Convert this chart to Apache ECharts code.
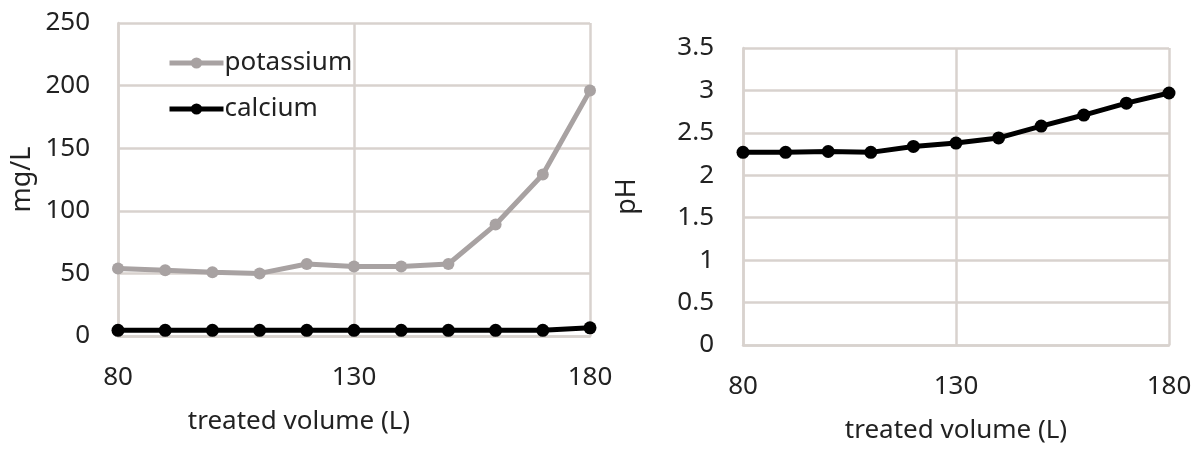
<!DOCTYPE html>
<html>
<head>
<meta charset="utf-8">
<script src="https://cdn.jsdelivr.net/npm/echarts@6/dist/echarts.min.js"></script>
<style>
html,body{margin:0;padding:0;background:#fff;}
#chart{width:1200px;height:453px;}
</style>
</head>
<body>
<div id="chart"></div>
<script>
const volumes = [80, 90, 100, 110, 120, 130, 140, 150, 160, 170, 180];
const potassium = [54, 52.5, 51, 50, 57.5, 55.5, 55.5, 57.5, 89, 129, 196];
const calcium = [4.5, 4.5, 4.5, 4.5, 4.5, 4.5, 4.5, 4.5, 4.5, 4.5, 6.5];
const ph = [2.27, 2.27, 2.28, 2.27, 2.34, 2.38, 2.44, 2.58, 2.71, 2.85, 2.97];

const FONT = 'Noto Sans';
const TXT = '#222';
const GRID = '#d8d2ce';

function pairs(xs, ys){ return xs.map((x,i)=>[x, ys[i]]); }

const chart = echarts.init(document.getElementById('chart'), null, {renderer:'canvas'});

function xAx(gridIndex, pad){
  return {
    type:'value', gridIndex, min:80, max:180, interval:50,
    name:'treated volume (L)', nameLocation:'middle', nameGap:73,
    nameTextStyle:{fontFamily:FONT, fontSize:26, color:TXT, padding:pad},
    axisLine:{show:true, lineStyle:{color:GRID, width:2.5}},
    axisTick:{show:false},
    axisLabel:{fontFamily:FONT, fontSize:26, color:TXT, margin:29},
    splitLine:{show:true, lineStyle:{color:GRID, width:2.5}}
  };
}

const option = {
  backgroundColor:'#fff',
  animation:false,
  grid:[
    {left:118, right:610, top:23, bottom:117},
    {left:743, right:31, top:48, bottom:108}
  ],
  legend:{
    data:['potassium','calcium'],
    orient:'vertical', left:162, top:45, itemGap:20,
    itemWidth:54, itemHeight:14,
    lineStyle:{width:5},
    textStyle:{fontFamily:FONT, fontSize:26, color:TXT, padding:[0,0,0,-4]}
  },
  xAxis:[xAx(0, [0,110,0,0]), xAx(1, [0,0,0,0])],
  yAxis:[
    {type:'value', gridIndex:0, min:0, max:250, interval:50,
     name:'mg/L', nameLocation:'middle', nameGap:82,
     nameTextStyle:{fontFamily:FONT, fontSize:27, color:TXT},
     axisLine:{show:true, lineStyle:{color:GRID, width:2.5}},
     axisTick:{show:false},
     axisLabel:{fontFamily:FONT, fontSize:26, color:TXT, margin:28},
     splitLine:{show:true, lineStyle:{color:GRID, width:2.5}}},
    {type:'value', gridIndex:1, min:0, max:3.5, interval:0.5,
     name:'pH', nameLocation:'middle', nameGap:102,
     nameTextStyle:{fontFamily:FONT, fontSize:27, color:TXT},
     axisLine:{show:true, lineStyle:{color:GRID, width:2.5}},
     axisTick:{show:false},
     axisLabel:{fontFamily:FONT, fontSize:26, color:TXT, margin:29},
     splitLine:{show:true, lineStyle:{color:GRID, width:2.5}}}
  ],
  series:[
    {name:'potassium', type:'line', xAxisIndex:0, yAxisIndex:0,
     data:pairs(volumes, potassium), symbol:'circle', symbolSize:12,
     lineStyle:{color:'#a8a2a2', width:5}, itemStyle:{color:'#a8a2a2'}},
    {name:'calcium', type:'line', xAxisIndex:0, yAxisIndex:0,
     data:pairs(volumes, calcium), symbol:'circle', symbolSize:13,
     lineStyle:{color:'#000', width:5}, itemStyle:{color:'#000'}},
    {name:'pH', type:'line', xAxisIndex:1, yAxisIndex:1,
     data:pairs(volumes, ph), symbol:'circle', symbolSize:13,
     lineStyle:{color:'#000', width:5}, itemStyle:{color:'#000'}}
  ]
};
chart.setOption(option);
</script>
</body>
</html>
